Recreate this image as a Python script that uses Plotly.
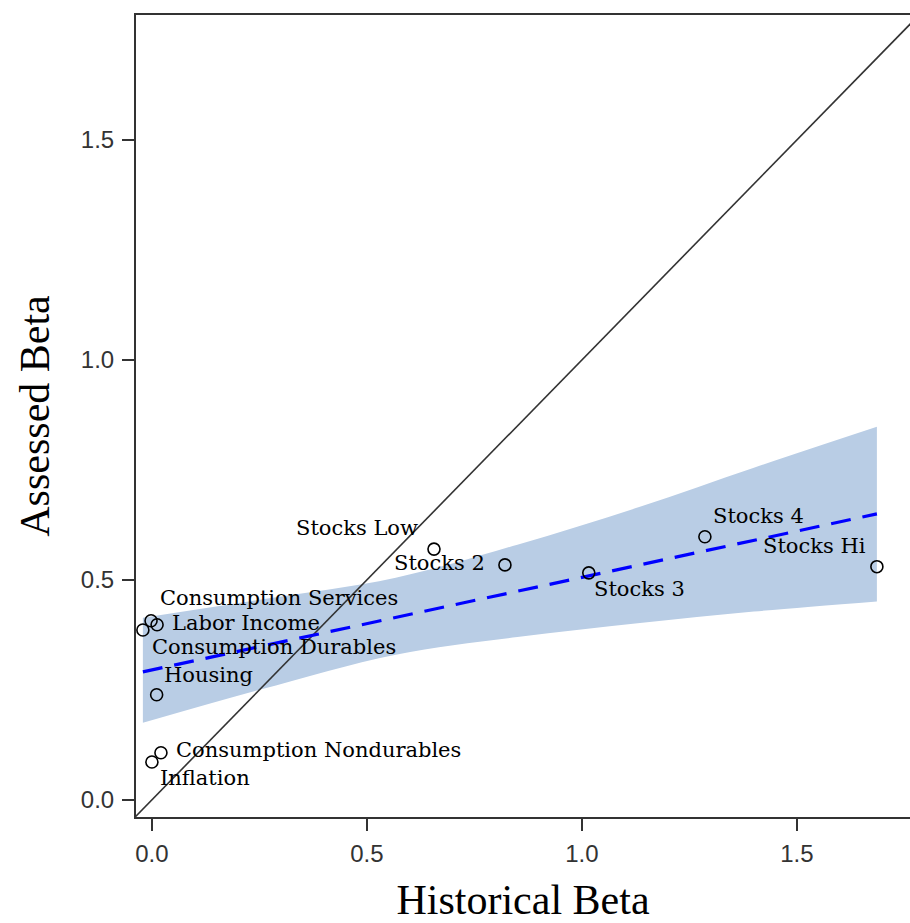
import plotly.graph_objects as go

# ---- data ----
names = ["Stocks Low", "Stocks 2", "Stocks 3", "Stocks 4", "Stocks Hi",
         "Consumption Services", "Labor Income", "Consumption Durables",
         "Housing", "Consumption Nondurables", "Inflation"]
hist_beta = [0.656, 0.821, 1.016, 1.286, 1.686,
             -0.002, 0.012, -0.021, 0.011, 0.021, 0.0]
assessed_beta = [0.570, 0.534, 0.516, 0.598, 0.530,
                 0.407, 0.398, 0.386, 0.239, 0.107, 0.086]

fit_x = [-0.021, 1.686]
fit_y = [0.291, 0.650]

band_x = [-0.021, 0.25, 0.567, 0.85, 1.135, 1.4, 1.686]
band_upper = [0.414, 0.455, 0.505, 0.580, 0.666, 0.755, 0.848]
band_lower = [0.175, 0.250, 0.330, 0.370, 0.402, 0.428, 0.451]

diag = [-0.04, 1.80]

x_ticks = [0.0, 0.5, 1.0, 1.5]
y_ticks = [0.0, 0.5, 1.0, 1.5]

# label placement (pixel offsets from the point): anchor, dx, dy
label_style = {
    "Stocks Low": ("right", -14, 21),
    "Stocks 2": ("right", -18, 2),
    "Stocks 3": ("left", 3, -16),
    "Stocks 4": ("left", 6, 21),
    "Stocks Hi": ("right", -9, 21),
    "Consumption Services": ("left", 7, 23),
    "Labor Income": ("left", 13, 2),
    "Consumption Durables": ("left", 7, -17),
    "Housing": ("left", 5, 20),
    "Consumption Nondurables": ("left", 13, 3),
    "Inflation": ("left", 6, -16),
}

fig = go.Figure()

# confidence band
fig.add_trace(go.Scatter(x=band_x, y=band_upper, mode="lines",
                         line=dict(width=0, color="rgba(0,0,0,0)", shape="spline"),
                         showlegend=False, hoverinfo="skip"))
fig.add_trace(go.Scatter(x=band_x, y=band_lower, mode="lines",
                         line=dict(width=0, color="rgba(0,0,0,0)", shape="spline"),
                         fill="tonexty", fillcolor="#b9cde5",
                         showlegend=False, hoverinfo="skip"))

# 45-degree line
fig.add_trace(go.Scatter(x=diag, y=diag, mode="lines",
                         line=dict(color="#333333", width=1.6),
                         showlegend=False, hoverinfo="skip"))

# fitted line
fig.add_trace(go.Scatter(x=fit_x, y=fit_y, mode="lines",
                         line=dict(color="#0000ff", width=3.2, dash="20px,12px"),
                         showlegend=False, hoverinfo="skip"))

# points
fig.add_trace(go.Scatter(x=hist_beta, y=assessed_beta, mode="markers",
                         marker=dict(symbol="circle-open", size=12,
                                     color="black", line=dict(width=1.6, color="black")),
                         showlegend=False, text=names))

annotations = []
for n, xv, yv in zip(names, hist_beta, assessed_beta):
    anchor, dx, dy = label_style[n]
    annotations.append(dict(x=xv, y=yv, xref="x", yref="y", text=n,
                            showarrow=False, xanchor=anchor, yanchor="middle",
                            xshift=dx, yshift=dy,
                            font=dict(family="DejaVu Serif", size=21, color="black")))

fig.update_layout(
    width=910, height=923,
    margin=dict(l=136, r=0, t=15, b=106),
    paper_bgcolor="white", plot_bgcolor="white",
    annotations=annotations,
    xaxis=dict(range=[-0.037, 1.763], tickvals=x_ticks,
               ticktext=[f"{v:.1f}" for v in x_ticks],
               showgrid=False, zeroline=False, automargin=False,
               showline=True, linecolor="#333333", linewidth=2, mirror=True,
               ticks="outside", ticklen=12, tickwidth=1.5, tickcolor="#333333",
               ticklabelstandoff=2,
               tickfont=dict(family="Liberation Sans", size=24, color="#333333"),
               title=dict(text="Historical Beta", standoff=33,
                          font=dict(family="Liberation Serif", size=42, color="black"))),
    yaxis=dict(range=[-0.039, 1.784], tickvals=y_ticks,
               ticktext=[f"{v:.1f}" for v in y_ticks],
               showgrid=False, zeroline=False, automargin=False,
               showline=True, linecolor="#333333", linewidth=2, mirror=False,
               ticks="outside", ticklen=12, tickwidth=1.5, tickcolor="#333333",
               ticklabelstandoff=3,
               tickfont=dict(family="Liberation Sans", size=24, color="#333333"),
               title=dict(text="Assessed Beta", standoff=18,
                          font=dict(family="Liberation Serif", size=42, color="black"))),
)

fig.write_html("out.html")
